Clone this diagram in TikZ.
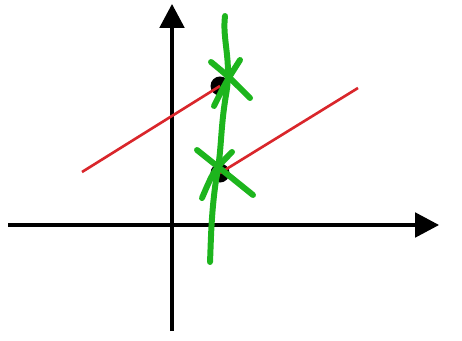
\documentclass[tikz,border=0pt]{standalone}
\usepackage{tikz}
\usetikzlibrary{arrows.meta}
\definecolor{markRed}{HTML}{D9262B}
\definecolor{markGreen}{HTML}{1DB51D}
\tikzset{
  axis/.style={line width=0.9pt, -{Triangle[length=6.8pt, width=7pt]}},
  redline/.style={markRed, line width=0.75pt},
  dotpt/.style={circle, fill=black, inner sep=0pt, minimum size=0.19cm},
  greenpen/.style={markGreen, line width=1.7pt, line cap=round, line join=round},
}

\begin{document}
\begin{tikzpicture}[x={(0.01cm,0)}, y={(0,-0.01cm)}]
\useasboundingbox (0,0) rectangle (462,340);
% axes
\coordinate (xl) at (8,225);
\coordinate (xr) at (439,225);
\coordinate (yb) at (172,331);
\coordinate (yt) at (172,4);
\draw[axis] (xl) -- (xr);
\draw[axis] (yb) -- (yt);
% the two points
\node[dotpt] (p1) at (220,86) {};
\node[dotpt] (p2) at (220,173) {};
% red segments
\coordinate (l1) at (82,172);
\coordinate (r2) at (358,88);
\draw[redline] (l1) -- (p1.center);
\draw[redline] (p2.center) -- (r2);
% green vertical stroke
\coordinate (g0) at (225,16);
\coordinate (g1) at (210,262);
\draw[greenpen] (g0) .. controls (222,40) and (232,60) .. (226,95)
  .. controls (220,130) and (222,150) .. (216,180)
  .. controls (211,215) and (211,240) .. (g1);
% crosses on the points
\draw[greenpen] (211,62) .. controls (228,76) .. (250,98);
\draw[greenpen] (240,60) .. controls (226,82) .. (214,106);
\draw[greenpen] (197,150) .. controls (222,170) .. (253,195);
\draw[greenpen] (232,152) .. controls (214,170) .. (202,198);
\end{tikzpicture}
\end{document}
